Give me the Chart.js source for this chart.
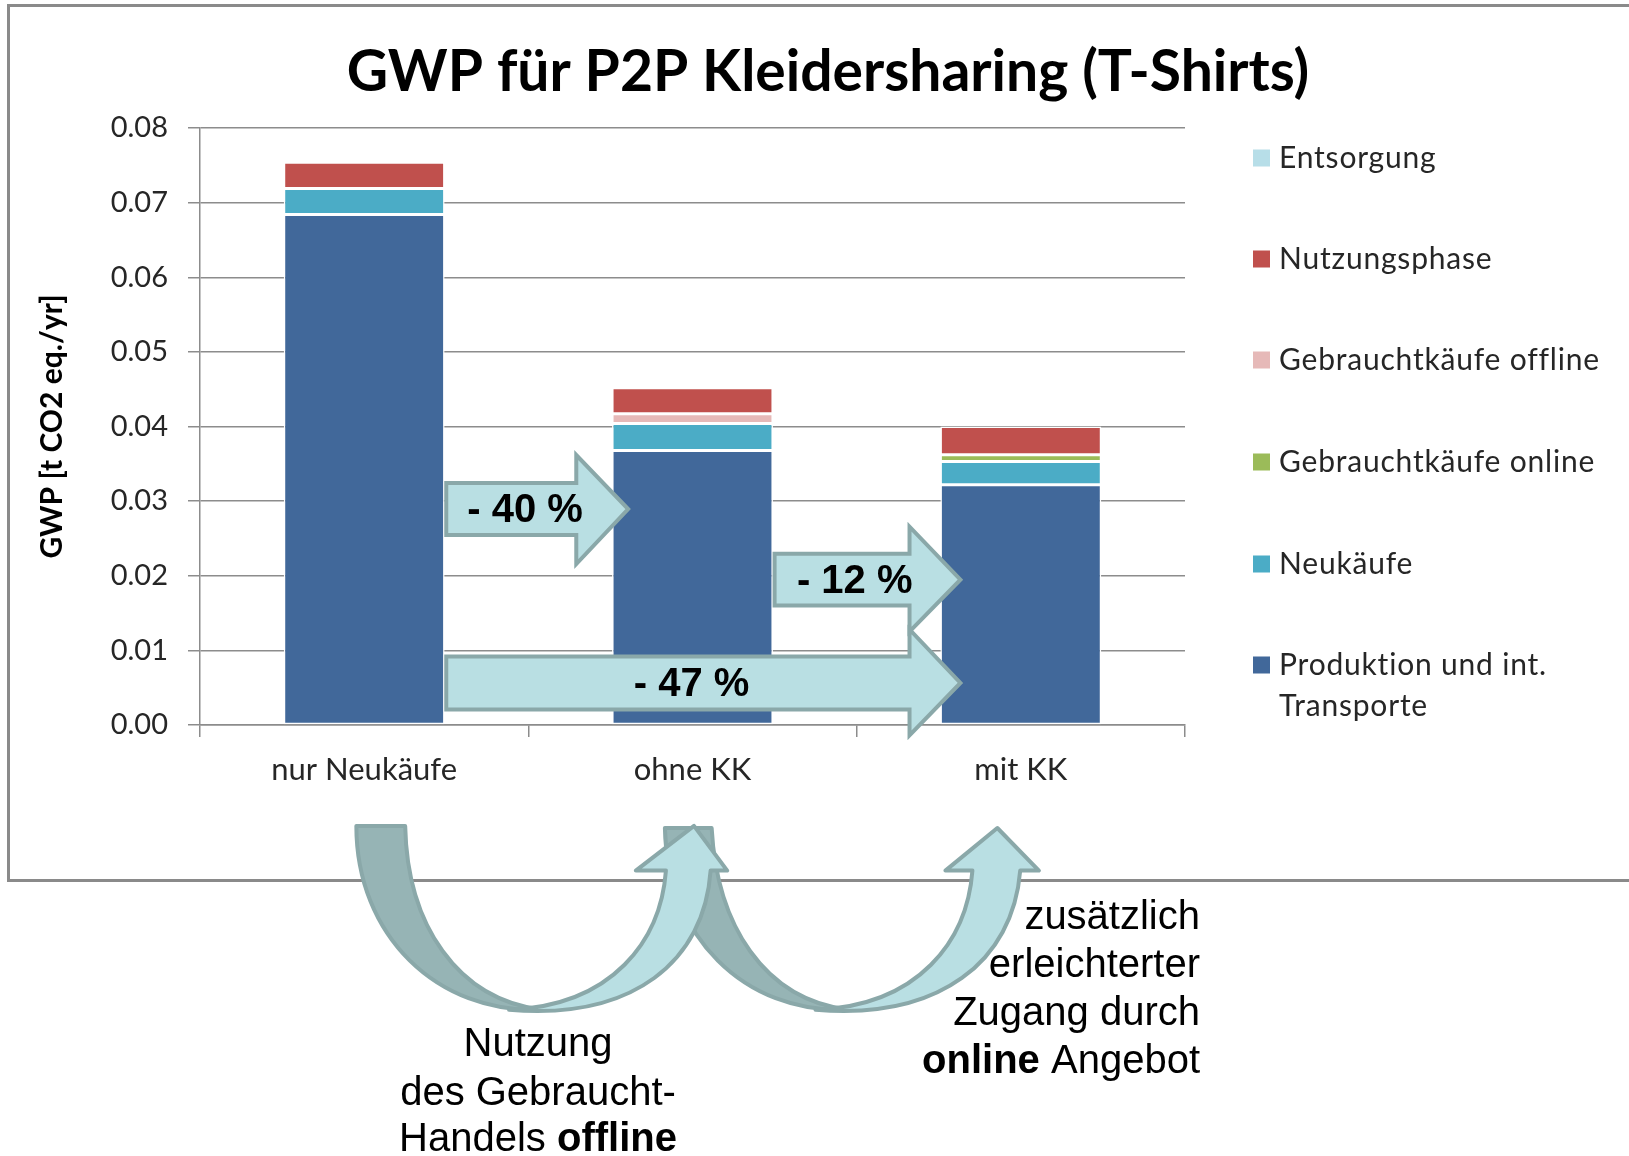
<!DOCTYPE html>
<html><head><meta charset="utf-8">
<script src="https://cdn.jsdelivr.net/npm/chart.js@4.4.1/dist/chart.umd.min.js"></script>
<style>html,body{margin:0;padding:0;background:#fff;overflow:hidden}canvas{display:block}</style>
</head><body>
<canvas id="c" width="1629" height="1156"></canvas>
<script>
// ---- data ----
const categories = ['nur Neukäufe', 'ohne KK', 'mit KK'];
const produktion = [0.0684, 0.0368, 0.0322];
const neukaeufe = [0.0035, 0.0036, 0.0031];
const gebrauchtOnline = [0, 0, 0.0009];
const gebrauchtOffline = [0, 0.0013, 0];
const nutzungsphase = [0.0035, 0.0035, 0.0038];
const entsorgung = [0, 0, 0];
const seriesNames = ['Produktion und int. Transporte', 'Neukäufe', 'Gebrauchtkäufe online', 'Gebrauchtkäufe offline', 'Nutzungsphase', 'Entsorgung'];
const reductionLabels = ['- 40 %', '- 12 %', '- 47 %'];
const chartTitle = 'GWP für P2P Kleidersharing (T-Shirts)';
const yAxisTitle = 'GWP [t CO2 eq./yr]';
const noteLeft = ['Nutzung', 'des Gebraucht-', 'Handels ', 'offline'];
const noteRight = ['zusätzlich', 'erleichterter', 'Zugang durch', 'online', ' Angebot'];

const colors = ['#41689A', '#4BACC6', '#9BBB59', '#E6B9B8', '#C0504D', '#B7DEE8'];
const seriesData = [produktion, neukaeufe, gebrauchtOnline, gebrauchtOffline, nutzungsphase, entsorgung];

const GRID = '#8c8c8c';
const ARROW_FILL = '#B9DFE3';
const ARROW_DARK = '#96B4B5';
const ARROW_STROKE = '#8AA8A9';

const decor = {
  id: 'decor',
  beforeDraw(chart) {
    const ctx = chart.ctx;
    ctx.save();
    ctx.fillStyle = '#fff';
    ctx.fillRect(0, 0, chart.width, chart.height);
    ctx.strokeStyle = '#8a8a8a';
    ctx.lineWidth = 3;
    ctx.strokeRect(8.5, 5.5, 1660, 875);
    ctx.restore();
  },
  afterDraw(chart) {
    const ctx = chart.ctx;
    const xs = chart.scales.x, ys = chart.scales.y;
    const L = xs.left, W = (xs.right - xs.left) / categories.length;
    const X = u => L + u * W;
    const Y = v => ys.getPixelForValue(v);
    ctx.save();
    // title
    ctx.fillStyle = '#000';
    ctx.font = 'bold 57px Lato';
    ctx.textAlign = 'center';
    ctx.textBaseline = 'middle';
    ctx.fillText(chartTitle, 828, 73);

    // legend (reverse order)
    const legendY = [158, 259, 360, 462, 564, 665];
    ctx.textAlign = 'left';
    ctx.font = '30px Lato';
    ctx.letterSpacing = '0.8px';
    for (let i = 0; i < seriesNames.length; i++) {
      const di = seriesNames.length - 1 - i;
      const y = legendY[i];
      ctx.fillStyle = colors[di];
      ctx.fillRect(1253, y - 8.5, 17, 17);
      ctx.fillStyle = '#262626';
      const name = chart.data.datasets[di].label;
      if (name === 'Produktion und int. Transporte') {
        ctx.fillText('Produktion und int.', 1279, y);
        ctx.fillText('Transporte', 1279, y + 41);
      } else {
        ctx.fillText(name, 1279, y);
      }
    }
    ctx.letterSpacing = '0px';

    // block arrows
    const arrows = [
      {x0: 0.75, xb: 1.146, xt: 1.304, s1: 0.03242, s2: 0.02546, h1: 0.03617, h2: 0.02157, tx: 0.99},
      {x0: 1.75, xb: 2.161, xt: 2.316, s1: 0.02296, s2: 0.0160, h1: 0.02657, h2: 0.01252, tx: 1.994},
      {x0: 0.75, xb: 2.161, xt: 2.316, s1: 0.00918, s2: 0.00209, h1: 0.0128, h2: -0.00139, tx: 1.497}
    ];
    arrows.forEach((a, i) => {
      const yc = (a.s1 + a.s2) / 2;
      ctx.beginPath();
      ctx.moveTo(X(a.x0), Y(a.s1));
      ctx.lineTo(X(a.xb), Y(a.s1));
      ctx.lineTo(X(a.xb), Y(a.h1));
      ctx.lineTo(X(a.xt), Y(yc));
      ctx.lineTo(X(a.xb), Y(a.h2));
      ctx.lineTo(X(a.xb), Y(a.s2));
      ctx.lineTo(X(a.x0), Y(a.s2));
      ctx.closePath();
      ctx.fillStyle = ARROW_FILL;
      ctx.fill();
      ctx.lineWidth = 4;
      ctx.lineJoin = 'miter';
      ctx.strokeStyle = ARROW_STROKE;
      ctx.stroke();
      ctx.fillStyle = '#000';
      ctx.font = 'bold 40px "Liberation Sans", Arial';
      ctx.textAlign = 'center';
      ctx.textBaseline = 'middle';
      ctx.fillText(reductionLabels[i], X(a.tx), Y(yc) + 2);
    });

    // curved arrows (decorative)
    const K = 1629 / 1568;
    const P = (pts) => pts.map(v => v * K);
    function shape(cmds, fill) {
      ctx.beginPath();
      cmds.forEach(c => {
        const p = P(c.slice(1));
        if (c[0] === 'M') ctx.moveTo(p[0], p[1]);
        else if (c[0] === 'L') ctx.lineTo(p[0], p[1]);
        else if (c[0] === 'C') ctx.bezierCurveTo(p[0], p[1], p[2], p[3], p[4], p[5]);
      });
      ctx.closePath();
      ctx.fillStyle = fill;
      ctx.fill();
      ctx.lineWidth = 4;
      ctx.lineJoin = 'round';
      ctx.strokeStyle = ARROW_STROKE;
      ctx.stroke();
    }
    const darkA = [['M',343,795],['L',390,795],['C',392,890,440,962,522,972],['C',420,976,343,900,343,795]];
    const lightA = [['M',490,972],['C',590,968,636,905,641,838],['L',612,838],['L',668,795],['L',700,838],['L',684,838],['C',678,925,610,982,490,972]];
    const darkB = [['M',640,797],['L',685,797],['C',690,890,735,962,817,972],['C',715,976,642,900,640,797]];
    const lightB = [['M',785,972],['C',885,968,931,905,936,838],['L',910,838],['L',960,797],['L',1000,838],['L',982,838],['C',975,925,905,982,785,972]];
    shape(darkA, ARROW_DARK);
    shape(darkB, ARROW_DARK);
    shape(lightA, ARROW_FILL);
    shape(lightB, ARROW_FILL);

    // notes
    ctx.fillStyle = '#000';
    ctx.textBaseline = 'middle';
    const reg = '40px "Liberation Sans", Arial';
    const bold = 'bold 40px "Liberation Sans", Arial';
    ctx.font = reg;
    ctx.textAlign = 'center';
    ctx.fillText(noteLeft[0], 538, 1045);
    ctx.fillText(noteLeft[1], 538, 1094);
    ctx.textAlign = 'left';
    const w1 = ctx.measureText(noteLeft[2]).width;
    ctx.font = bold;
    const w2 = ctx.measureText(noteLeft[3]).width;
    let sx = 538 - (w1 + w2) / 2;
    ctx.font = reg; ctx.fillText(noteLeft[2], sx, 1140);
    ctx.font = bold; ctx.fillText(noteLeft[3], sx + w1, 1140);

    ctx.font = reg;
    ctx.textAlign = 'right';
    ctx.fillText(noteRight[0], 1200, 918);
    ctx.fillText(noteRight[1], 1200, 966);
    ctx.fillText(noteRight[2], 1200, 1014);
    const wr = ctx.measureText(noteRight[4]).width;
    ctx.fillText(noteRight[4], 1200, 1062);
    ctx.font = bold;
    ctx.fillText(noteRight[3], 1200 - wr, 1062);
    ctx.restore();
  }
};

new Chart(document.getElementById('c'), {
  type: 'bar',
  data: {
    labels: categories,
    datasets: seriesNames.map((n, i) => ({
      label: n,
      data: seriesData[i],
      backgroundColor: colors[i],
      borderColor: '#ffffff',
      borderWidth: 1.5,
      borderSkipped: false,
      barPercentage: 0.49,
      categoryPercentage: 1.0
    }))
  },
  options: {
    responsive: false,
    animation: false,
    devicePixelRatio: 1,
    layout: {padding: {left: 20, right: 444, top: 128, bottom: 371}},
    plugins: {legend: {display: false}, title: {display: false}, tooltip: {enabled: false}},
    scales: {
      x: {
        stacked: true,
        offset: true,
        grid: {offset: true, drawOnChartArea: false, drawTicks: true, tickLength: 12, color: GRID, lineWidth: 1.5},
        border: {display: true, color: GRID, width: 1.5},
        ticks: {font: {family: 'Lato', size: 31}, color: '#262626', padding: 14},
        afterFit(s) { s.height = 60; }
      },
      y: {
        stacked: true,
        min: 0, max: 0.08,
        ticks: {stepSize: 0.01, callback: v => Number(v).toFixed(2), font: {family: 'Lato', size: 29}, color: '#262626', padding: 20},
        grid: {color: GRID, lineWidth: 1.5, tickLength: 12},
        border: {display: true, color: GRID, width: 1.5},
        title: {display: true, text: yAxisTitle, font: {family: 'Lato', size: 30, weight: 'bold'}, color: '#000', padding: {top: 14, bottom: 0}},
        afterFit(s) { s.width = 180; }
      }
    }
  },
  plugins: [decor]
});
</script>
</body></html>
